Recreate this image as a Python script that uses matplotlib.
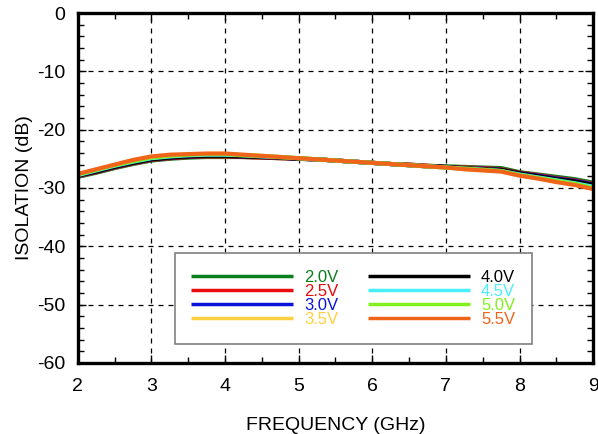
import numpy as np
import matplotlib.pyplot as plt
from matplotlib.ticker import MultipleLocator

plt.rcParams['font.family'] = ['Liberation Sans', 'DejaVu Sans']
plt.rcParams['axes.unicode_minus'] = False

freq = [2.0, 2.25, 2.5, 2.75, 3.0, 3.25, 3.5, 3.75, 4.0, 4.25, 4.5, 4.75, 5.0, 5.25, 5.5,
        5.75, 6.0, 6.25, 6.5, 6.75, 7.0, 7.25, 7.5, 7.75, 8.0, 8.25, 8.5, 8.75, 9.0]

iso_20 = [-28.1, -27.4, -26.6, -25.9, -25.3, -25.0, -24.8, -24.7, -24.7, -24.7, -24.8, -24.9, -25.0, -25.1, -25.3,
          -25.5, -25.7, -25.9, -26.0, -26.2, -26.3, -26.4, -26.5, -26.6, -27.3, -27.7, -28.1, -28.5, -29.1]
iso_25 = [-28.0, -27.3, -26.5, -25.8, -25.2, -24.9, -24.7, -24.6, -24.6, -24.7, -24.8, -24.9, -25.0, -25.1, -25.3,
          -25.5, -25.7, -25.9, -26.0, -26.2, -26.4, -26.5, -26.6, -26.8, -27.4, -27.8, -28.3, -28.7, -29.3]
iso_30 = [-27.9, -27.2, -26.4, -25.7, -25.1, -24.8, -24.6, -24.5, -24.5, -24.6, -24.7, -24.8, -25.0, -25.1, -25.3,
          -25.5, -25.7, -25.9, -26.1, -26.3, -26.4, -26.6, -26.7, -26.9, -27.5, -27.9, -28.4, -28.8, -29.4]
iso_35 = [-27.8, -27.1, -26.3, -25.6, -25.0, -24.7, -24.5, -24.4, -24.4, -24.5, -24.6, -24.8, -24.9, -25.1, -25.3,
          -25.5, -25.7, -25.9, -26.1, -26.3, -26.5, -26.6, -26.8, -27.0, -27.6, -28.1, -28.6, -29.0, -29.7]
iso_40 = [-27.9, -27.2, -26.4, -25.7, -25.1, -24.8, -24.6, -24.5, -24.5, -24.6, -24.7, -24.8, -25.0, -25.1, -25.3,
          -25.5, -25.7, -25.9, -26.1, -26.3, -26.4, -26.6, -26.8, -26.9, -27.5, -28.0, -28.5, -28.9, -29.5]
iso_45 = [-27.8, -27.0, -26.2, -25.5, -24.9, -24.6, -24.4, -24.3, -24.3, -24.4, -24.6, -24.7, -24.9, -25.1, -25.3,
          -25.5, -25.7, -25.9, -26.1, -26.3, -26.5, -26.7, -26.9, -27.1, -27.7, -28.2, -28.7, -29.2, -29.8]
iso_50 = [-27.7, -26.9, -26.1, -25.4, -24.8, -24.5, -24.3, -24.2, -24.2, -24.4, -24.5, -24.7, -24.9, -25.1, -25.3,
          -25.5, -25.7, -25.9, -26.1, -26.3, -26.5, -26.7, -26.9, -27.1, -27.8, -28.3, -28.8, -29.3, -30.0]
iso_55 = [-27.6, -26.8, -26.0, -25.2, -24.6, -24.3, -24.2, -24.1, -24.1, -24.3, -24.5, -24.7, -24.9, -25.1, -25.3,
          -25.5, -25.7, -25.9, -26.1, -26.3, -26.5, -26.8, -27.0, -27.2, -27.9, -28.4, -29.0, -29.5, -30.2]

labels = ['2.0V', '2.5V', '3.0V', '3.5V', '4.0V', '4.5V', '5.0V', '5.5V']
colors = ['#0a7f1e', '#e80c0c', '#0a14d8', '#ffd040', '#000000', '#48f0ff', '#80f020', '#f0641a']
series = [iso_20, iso_25, iso_30, iso_35, iso_40, iso_45, iso_50, iso_55]

fig = plt.figure(figsize=(5.98, 4.34), dpi=100)
ax = fig.add_axes([0.130, 0.164, 0.862, 0.806])

handles = []
for y, c, lab in zip(series, colors, labels):
    h, = ax.plot(freq, y, color=c, linewidth=3.0, label=lab, solid_capstyle='butt')
    handles.append(h)

ax.set_xlim(2, 9)
ax.set_ylim(-60, 0)
ax.xaxis.set_major_locator(MultipleLocator(1))
ax.xaxis.set_minor_locator(MultipleLocator(0.5))
ax.yaxis.set_major_locator(MultipleLocator(10))
ax.yaxis.set_minor_locator(MultipleLocator(2))

ax.grid(True, which='major', color='black', linestyle=(0, (4, 4)), linewidth=0.9)
for s in ax.spines.values():
    s.set_linewidth(2.4)

ax.tick_params(which='both', direction='in', top=True, right=True, labelsize=14)
ax.tick_params(axis='x', pad=11)
ax.tick_params(axis='y', pad=9)
ax.tick_params(which='major', length=6, width=1)
ax.tick_params(which='minor', length=4, width=1)

ax.set_xlabel('FREQUENCY (GHz)', fontsize=14, labelpad=16)
ax.set_ylabel('ISOLATION (dB)', fontsize=14, labelpad=3)

leg = ax.legend(handles=handles, ncol=2, loc='lower left', bbox_to_anchor=(0.188, 0.054),
                fontsize=12, handlelength=6.1, handletextpad=0.66, columnspacing=1.8,
                labelspacing=-0.05, borderpad=1.0, fancybox=False, framealpha=1,
                edgecolor='#808080', borderaxespad=0)
leg.get_frame().set_linewidth(1.2)
for t, c in zip(leg.get_texts(), colors):
    t.set_color(c)
for lh in leg.get_lines():
    lh.set_linewidth(2.5)

fig.savefig('out.png', dpi=100)
